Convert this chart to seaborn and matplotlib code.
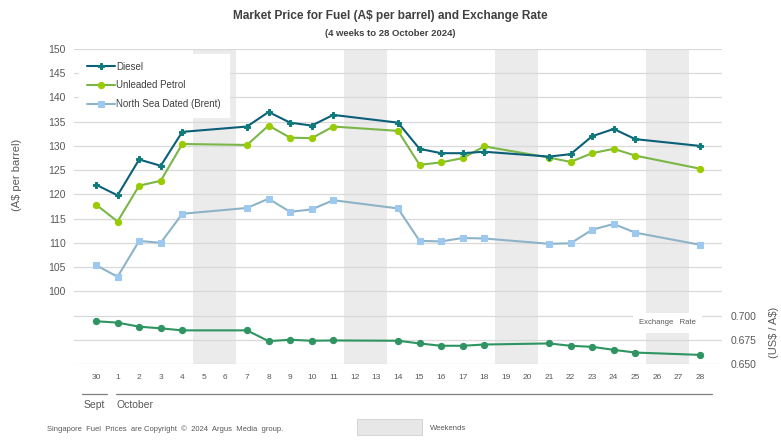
import matplotlib
matplotlib.use("Agg")
import matplotlib.pyplot as plt
import seaborn as sns
import pandas as pd
import numpy as np
from matplotlib.patches import Rectangle
from matplotlib.lines import Line2D

sns.set_theme(style="white")
plt.rcParams['font.family'] = ['Liberation Sans', 'DejaVu Sans']

# ==========================================
# DATA
# ==========================================
day_labels = ["30"] + [str(d) for d in range(1, 29)]
weekend_days = ["5", "6", "12", "13", "19", "20", "26", "27"]

trade_days = ["30", "1", "2", "3", "4", "7", "8", "9", "10", "11", "14",
              "15", "16", "17", "18", "21", "22", "23", "24", "25", "28"]

diesel = [122.0, 119.8, 127.2, 125.9, 132.9, 134.0, 137.0, 134.8, 134.2, 136.4, 134.8,
          129.4, 128.5, 128.5, 128.8, 127.8, 128.3, 132.0, 133.5, 131.4, 130.0]
unleaded = [117.9, 114.4, 121.8, 122.8, 130.4, 130.2, 134.2, 131.7, 131.6, 134.0, 133.1,
            126.1, 126.6, 127.5, 129.9, 127.6, 126.7, 128.5, 129.4, 128.0, 125.3]
brent = [105.4, 103.0, 110.4, 110.0, 116.0, 117.2, 119.1, 116.4, 116.9, 118.8, 117.1,
         110.4, 110.3, 111.0, 110.9, 109.8, 109.9, 112.7, 113.9, 112.1, 109.6]
exchange_rate = [0.6941, 0.6927, 0.6885, 0.6868, 0.6847, 0.6847, 0.6736, 0.6750, 0.6740, 0.6743, 0.6740,
                 0.6712, 0.6688, 0.6688, 0.6701, 0.6712, 0.6688, 0.6677, 0.6646, 0.6618, 0.6594]

pos = {d: i for i, d in enumerate(day_labels)}
df = pd.DataFrame({
    "x": [pos[d] for d in trade_days],
    "Diesel": diesel,
    "Unleaded Petrol": unleaded,
    "North Sea Dated (Brent)": brent,
    "Exchange Rate": exchange_rate,
})

grey_txt = "#595959"
grid_c = "#D9D9D9"
shade_c = "#EBEBEB"

fig = plt.figure(figsize=(7.81, 4.46), dpi=100)
W, H = 781, 446
ax = fig.add_axes([74 / W, 1 - 364 / H, (722 - 74) / W, (364 - 49) / H])

# weekends
for d in weekend_days:
    ax.axvspan(pos[d] - 0.5, pos[d] + 0.5, color=shade_c, lw=0, zorder=0)

# gridlines
for v in range(85, 151, 5):
    ax.axhline(v, color=grid_c, lw=0.9, zorder=1)

sns.lineplot(data=df, x="x", y="Diesel", ax=ax, color="#0B5F78", lw=1.5,
             marker="P", markersize=4.5, markerfacecolor="#0E7C7B", markeredgecolor="#0E7C7B",
             zorder=5, label="Diesel")
sns.lineplot(data=df, x="x", y="Unleaded Petrol", ax=ax, color="#7AB648", lw=1.5,
             marker="o", markersize=4.5, markerfacecolor="#99CC00", markeredgecolor="#99CC00",
             zorder=4, label="Unleaded Petrol")
sns.lineplot(data=df, x="x", y="North Sea Dated (Brent)", ax=ax, color="#8DB4C6", lw=1.5,
             marker="s", markersize=4, markerfacecolor="#9DC8F0", markeredgecolor="#9DC8F0",
             zorder=3, label="North Sea Dated (Brent)")

ax.set_xlim(-1.02, 29.02)
ax.set_ylim(85, 150)
ax.set_yticks(range(100, 151, 5))
ax.set_xticks(range(len(day_labels)))
ax.set_xticklabels(day_labels)
ax.tick_params(axis="y", labelsize=7.5, colors=grey_txt, length=0, pad=6)
ax.tick_params(axis="x", labelsize=6, colors=grey_txt, length=0, pad=7)
ax.set_xlabel("")
ax.set_ylabel("(A$ per barrel)", fontsize=8, color=grey_txt)
ax.yaxis.set_label_coords(-52 / (722 - 74), 0.6)
for s in ax.spines.values():
    s.set_visible(False)

leg = ax.legend(loc="upper left", bbox_to_anchor=(0.0, 1.0), fontsize=7, frameon=True,
                fancybox=False, edgecolor="white", framealpha=1, handlelength=2.9,
                handletextpad=0.15, labelspacing=0.9, borderpad=0.8)
for t in leg.get_texts():
    t.set_color("#404040")

# exchange rate on right axis: 0.650 -> 85, 0.700 -> 95
ax2 = ax.twinx()
sns.lineplot(data=df, x="x", y="Exchange Rate", ax=ax2, color="#2E9462", lw=1.5,
             marker="o", markersize=4.5, markerfacecolor="#2E9462", markeredgecolor="#2E9462")
ax2.set_ylim(0.65, 0.65 + 65 * 0.005)
ax2.set_yticks([0.65, 0.675, 0.7])
ax2.set_yticklabels(["0.650", "0.675", "0.700"])
ax2.tick_params(axis="y", labelsize=7.5, colors=grey_txt, length=0, pad=6)
ax2.set_ylabel(r"(US\$ / A\$)", fontsize=8, color=grey_txt)
ax2.yaxis.set_label_coords(1 + 47 / (722 - 74), 0.1)
for s in ax2.spines.values():
    s.set_visible(False)
ax2.text(pos["26"] + 0.5, 0.6925, "Exchange   Rate", fontsize=5.5, color=grey_txt,
         ha="center", va="center",
         bbox=dict(facecolor="white", edgecolor="none", pad=4.5))

# titles
fig.text(390 / W, 1 - 16 / H, "Market Price for Fuel (A$ per barrel) and Exchange Rate",
         ha="center", va="center", fontsize=8.6, fontweight="bold", color="#404040")
fig.text(390 / W, 1 - 33 / H, "(4 weeks to 28 October 2024)",
         ha="center", va="center", fontsize=6.8, fontweight="bold", color="#404040")

# month bands
fig.add_artist(Line2D([82 / W, 107 / W], [1 - 394 / H] * 2, color="#7F7F7F", lw=0.9))
fig.add_artist(Line2D([116 / W, 712 / W], [1 - 394 / H] * 2, color="#7F7F7F", lw=0.9))
fig.text(84 / W, 1 - 405 / H, "Sept", fontsize=7.5, color=grey_txt, va="center")
fig.text(116 / W, 1 - 405 / H, "October", fontsize=7.5, color=grey_txt, va="center")

# footer
fig.text(47 / W, 1 - 429 / H, "Singapore  Fuel  Prices  are Copyright  \u00a9  2024  Argus  Media  group.",
         fontsize=5.5, color=grey_txt, va="center")
fig.add_artist(Rectangle((357 / W, 1 - 435 / H), 65 / W, 16 / H, transform=fig.transFigure,
                         facecolor="#E7E7E7", edgecolor="#D0D0D0", lw=0.6))
fig.text(430 / W, 1 - 428 / H, "Weekends", fontsize=5.5, color=grey_txt, va="center")

fig.savefig("out.png", dpi=100)
